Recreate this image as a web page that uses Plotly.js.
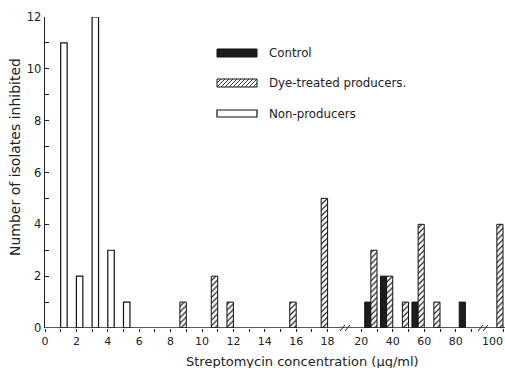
<!DOCTYPE html>
<html><head><meta charset="utf-8">
<script src="https://cdn.plot.ly/plotly-3.0.1.min.js"></script>
<style>html,body{margin:0;padding:0;background:#fff}</style>
</head><body><div id="chart" style="width:505px;height:368px"></div>
<script>
// ---- data ----
const controlConc = [30, 40, 60, 90];
const controlCount = [1, 2, 1, 1];
const dyeConc = [9, 11, 12, 16, 18, 30, 40, 50, 60, 70, 100];
const dyeCount = [1, 2, 1, 1, 5, 3, 2, 1, 4, 1, 4];
const nonConc = [1, 2, 3, 4, 5];
const nonCount = [11, 2, 12, 3, 1];
const seriesNames = ['Control', 'Dye-treated producers.', 'Non-producers'];

const yTickVals = [0,1,2,3,4,5,6,7,8,9,10,11,12];
const yTickText = ['0','','2','','4','','6','','8','','10','','12'];
const lowTickVals = [0,1,2,3,4,5,6,7,8,9,10,11,12,13,14,15,16,17,18];
const lowTickText = ['0','','2','','4','','6','','8','','10','','12','','14','','16','','18'];
const midTickVals = [20,30,40,50,60,70,80,90];
const midTickText = ['20','','40','','60','','80',''];
const highTickVals = [100];
const highTickText = ['100'];
const xTitle = 'Streptomycin concentration (\u03bcg/ml)';
const yTitle = 'Number of isolates inhibited';

// ---- layout helpers (pixel -> paper) ----
const W = 505, H = 368, ML = 45, MR = 0, MT = 17, MB = 40;
const PW = W - ML - MR, PH = H - MT - MB;
const px = x => (x - ML) / PW;
const py = y => (H - MB - y) / PH;

const segments = [
  {axis: 'x',  lo: -Infinity, hi: 19, width: 0.41},
  {axis: 'x2', lo: 19, hi: 95, width: 3.9},
  {axis: 'x3', lo: 95, hi: Infinity, width: 3.9}
];

const series = [
  {name: seriesNames[0], conc: controlConc, count: controlCount, shift: -2,
   marker: {color: '#1c1c1c', line: {color: '#111', width: 1}}},
  {name: seriesNames[1], conc: dyeConc, count: dyeCount, shift: -1,
   marker: {color: '#ffffff', line: {color: '#111', width: 1},
            pattern: {shape: '/', fgcolor: '#222', bgcolor: '#ffffff', size: 4, solidity: 0.3}}},
  {name: seriesNames[2], conc: nonConc, count: nonCount, shift: 0,
   marker: {color: '#ffffff', line: {color: '#111', width: 1.2}}}
];

const traces = [];
series.forEach(s => {
  segments.forEach(seg => {
    const xs = [], ys = [];
    s.conc.forEach((c, i) => { if (c >= seg.lo && c < seg.hi) { xs.push(c); ys.push(s.count[i]); } });
    if (!xs.length) return;
    traces.push({
      type: 'bar', name: s.name, x: xs, y: ys, xaxis: seg.axis, yaxis: 'y',
      width: seg.width, offset: s.shift * seg.width, marker: s.marker,
      showlegend: false, hoverinfo: 'x+y'
    });
  });
});

const axisCommon = {
  anchor: 'y', showgrid: false, zeroline: false, showline: false,
  ticks: 'outside', ticklen: 3, tickwidth: 1, tickcolor: '#222',
  tickfont: {family: 'DejaVu Sans', size: 11, color: '#222'}, tickmode: 'array', fixedrange: true
};

const shapes = [];
// baseline
shapes.push({type: 'line', xref: 'paper', yref: 'y', x0: 0, x1: px(W), y0: 0, y1: 0,
             line: {color: '#222', width: 1.3}});
// break marks
[345, 483].forEach(bx => {
  [-2.5, 2.5].forEach(d => {
    shapes.push({type: 'line', xref: 'paper', yref: 'paper',
                 x0: px(bx + d - 2.5), y0: py(H - MB + 3), x1: px(bx + d + 2.5), y1: py(H - MB - 3),
                 line: {color: '#222', width: 1}});
  });
});
// legend swatches
const swX0 = 217, swX1 = 257;
const swY = [[49, 57], [79, 87], [110, 117]];
shapes.push({type: 'rect', xref: 'paper', yref: 'paper', x0: px(swX0), x1: px(swX1),
             y0: py(swY[0][1]), y1: py(swY[0][0]), fillcolor: '#1c1c1c', line: {color: '#111', width: 1}});
shapes.push({type: 'rect', xref: 'paper', yref: 'paper', x0: px(swX0), x1: px(swX1),
             y0: py(swY[1][1]), y1: py(swY[1][0]), fillcolor: '#ffffff', line: {color: '#111', width: 1}});
let hatch = '';
for (let x = swX0 - 8; x < swX1; x += 4) {
  let xa = x, ya = swY[1][1], xb = x + 8, yb = swY[1][0];
  if (xa < swX0) { ya -= (swX0 - xa); xa = swX0; }
  if (xb > swX1) { yb += (xb - swX1); xb = swX1; }
  hatch += `M${px(xa)},${py(ya)} L${px(xb)},${py(yb)} `;
}
shapes.push({type: 'path', xref: 'paper', yref: 'paper', path: hatch, line: {color: '#222', width: 0.9}});
shapes.push({type: 'rect', xref: 'paper', yref: 'paper', x0: px(swX0), x1: px(swX1),
             y0: py(swY[2][1]), y1: py(swY[2][0]), fillcolor: '#ffffff', line: {color: '#111', width: 1.2}});

const annotations = [];
seriesNames.forEach((n, i) => {
  annotations.push({xref: 'paper', yref: 'paper', x: px(267), y: py((swY[i][0] + swY[i][1]) / 2),
    xanchor: 'left', yanchor: 'middle', text: n, showarrow: false,
    font: {family: 'DejaVu Sans', size: 11.8, color: '#222'}});
});
// last tick label, right-aligned at the page edge so it stays fully visible
annotations.push({xref: 'paper', yref: 'paper', x: 1, y: py(341), xanchor: 'right', yanchor: 'middle',
  text: highTickText[0], showarrow: false, font: {family: 'DejaVu Sans', size: 11, color: '#222'}});
annotations.push({xref: 'paper', yref: 'paper', x: px(302), y: py(361), xanchor: 'center', yanchor: 'middle',
  text: xTitle, showarrow: false, font: {family: 'DejaVu Sans', size: 13, color: '#222'}});
annotations.push({xref: 'paper', yref: 'paper', x: px(15), y: py(157), xanchor: 'center', yanchor: 'middle',
  text: yTitle, textangle: -90, showarrow: false, font: {family: 'DejaVu Sans', size: 14, color: '#222'}});

const layout = {
  width: W, height: H, margin: {l: ML, r: MR, t: MT, b: MB, pad: 0},
  paper_bgcolor: '#ffffff', plot_bgcolor: '#ffffff', showlegend: false, barmode: 'overlay',
  font: {family: 'DejaVu Sans', size: 11, color: '#222'},
  yaxis: {range: [0, 12], tickmode: 'array', tickvals: yTickVals, ticktext: yTickText,
          ticks: 'inside', ticklen: 4, tickcolor: '#222', showline: true, linecolor: '#222', linewidth: 1.3,
          showgrid: false, zeroline: false, anchor: 'x', fixedrange: true,
          tickfont: {family: 'DejaVu Sans', size: 11.5, color: '#222'}},
  xaxis: Object.assign({}, axisCommon, {domain: [0, px(338)], range: [0, (338 - ML) / 15.7],
          tickvals: lowTickVals, ticktext: lowTickText}),
  xaxis2: Object.assign({}, axisCommon, {domain: [px(352), px(478)],
          range: [20 - (361.25 - 352) / 1.575, 20 + (478 - 361.25) / 1.575],
          tickvals: midTickVals, ticktext: midTickText}),
  xaxis3: Object.assign({}, axisCommon, {domain: [px(488), 1],
          range: [100 - (503 - 488) / 1.575, 100 + (505 - 503) / 1.575],
          tickvals: highTickVals, showticklabels: false}),
  shapes: shapes, annotations: annotations
};

Plotly.newPlot('chart', traces, layout, {staticPlot: true, displayModeBar: false});
</script></body></html>
